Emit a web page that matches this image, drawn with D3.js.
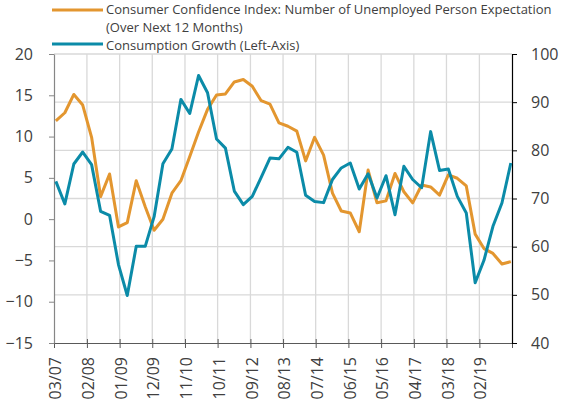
<!DOCTYPE html>
<html>
<head>
<meta charset="utf-8">
<script src="https://cdn.jsdelivr.net/npm/d3@7"></script>
<style>
  body { margin: 0; background: #fff; }
  text { font-family: "Open Sans", sans-serif; fill: #404040; }
</style>
</head>
<body>
<div id="chart"></div>
<script>
// quarterly series, 03/07 .. 12/19
var startDate = new Date(2007, 2, 1);

// Consumption Growth (left axis)
var consumption = [4.57, 1.84, 6.68, 8.13, 6.6, 0.95, 0.46, -5.5, -9.25, -3.29,
  -3.29, 0.3, 6.7, 8.5, 14.5, 12.8, 17.4, 15.3, 9.7, 8.6,
  3.4, 1.75, 2.76, 5.06, 7.4, 7.3, 8.7, 8.1, 2.9, 2.15,
  2.0, 4.8, 6.2, 6.8, 3.65, 5.5, 2.56, 5.26, 0.54, 6.4,
  4.8, 3.8, 10.6, 5.9, 6.07, 2.76, 0.75, -7.7, -4.98, -0.87,
  1.96, 6.8];

// Consumer Confidence Index: unemployed person expectation (right axis)
var confidence = [86.1, 87.8, 91.6, 89.4, 82.7, 70.4, 75.1, 64.1, 65.0, 73.7,
  68.3, 63.4, 65.7, 71.1, 73.7, 78.7, 83.8, 88.5, 91.5, 91.7,
  94.2, 94.7, 93.3, 90.3, 89.6, 85.7, 85.0, 84.0, 77.8, 82.7,
  79.0, 71.1, 67.4, 67.0, 63.1, 75.9, 69.1, 69.5, 75.2, 71.4,
  69.1, 72.8, 72.4, 70.7, 74.9, 74.2, 72.6, 62.6, 59.6, 58.6,
  56.4, 56.9];

var leftTicks = [-15, -10, -5, 0, 5, 10, 15, 20];
var rightTicks = [40, 50, 60, 70, 80, 90, 100];
var legendLabels = ["Consumer Confidence Index: Number of Unemployed Person Expectation",
  "(Over Next 12 Months)", "Consumption Growth (Left-Axis)"];

var orange = "#E3962F",
    blue = "#0B8BA8";

var width = 563,
    height = 414;

var margin = {left: 54, right: 51, top: 54, bottom: 71};

// dates of the points (quarter-end months)
var dates = consumption.map(function(d, i) {
  return new Date(2007, 2 + 3 * i, 20);
});

// x ticks every 11 months
var xTicks = d3.range(15).map(function(k) { return d3.timeMonth.offset(startDate, 11 * k); });

var x = d3.scaleTime()
  .domain([startDate, xTicks[xTicks.length - 1]])
  .range([margin.left, width - margin.right]);

var yL = d3.scaleLinear()
  .domain([-15, 20])
  .range([height - margin.bottom, margin.top]);

var yR = d3.scaleLinear()
  .domain([40, 100])
  .range([height - margin.bottom, margin.top]);

var svg = d3.select("#chart").append("svg")
  .attr("width", width)
  .attr("height", height);

// gridlines
svg.append("g")
  .selectAll("line")
  .data(xTicks.slice(1, -1))
  .enter().append("line")
  .attr("x1", function(d) { return x(d); })
  .attr("x2", function(d) { return x(d); })
  .attr("y1", yR(100))
  .attr("y2", yR(40))
  .attr("stroke", "#d9d9d9")
  .attr("stroke-width", 1.3);

svg.append("g")
  .selectAll("line")
  .data(rightTicks.slice(1))
  .enter().append("line")
  .attr("x1", x.range()[0])
  .attr("x2", x.range()[1])
  .attr("y1", function(d) { return yR(d); })
  .attr("y2", function(d) { return yR(d); })
  .attr("stroke", "#d9d9d9")
  .attr("stroke-width", 1.3);

// x axis
var gx = svg.append("g")
  .attr("transform", "translate(0," + yL(-15) + ")")
  .call(d3.axisBottom(x)
    .tickValues(xTicks)
    .tickSizeInner(5)
    .tickSizeOuter(0)
    .tickFormat(function(d, i) { return i < 14 ? d3.timeFormat("%m/%y")(d) : ""; }));
gx.select(".domain").attr("stroke", "#595959").attr("stroke-width", 1.2);
gx.selectAll(".tick line").attr("stroke", "#595959").attr("y1", -4);
gx.selectAll(".tick text")
  .attr("font-size", 16)
  .attr("font-family", "Open Sans")
  .attr("transform", "rotate(-90)")
  .attr("text-anchor", "end")
  .attr("x", -14)
  .attr("y", 1)
  .attr("dy", "0.35em")
  .attr("fill", "#404040");

// left axis
var gl = svg.append("g")
  .attr("transform", "translate(" + margin.left + ",0)")
  .call(d3.axisLeft(yL).tickValues(leftTicks).tickSizeInner(5).tickSizeOuter(0).tickPadding(16));
gl.select(".domain").attr("stroke", "#868686").attr("stroke-width", 1.2);
gl.selectAll(".tick line").attr("stroke", "#868686");
gl.selectAll(".tick text").attr("font-size", 16).attr("font-family", "Open Sans").attr("fill", "#404040");

// right axis
var gr = svg.append("g")
  .attr("transform", "translate(" + (width - margin.right) + ",0)")
  .call(d3.axisRight(yR).tickValues(rightTicks).tickSizeInner(5).tickSizeOuter(0).tickPadding(14));
gr.select(".domain").attr("stroke", "#000").attr("stroke-width", 1.2);
gr.selectAll(".tick line").attr("stroke", "#000");
gr.selectAll(".tick text").attr("font-size", 16).attr("font-family", "Open Sans").attr("fill", "#404040");

// lines
var lineL = d3.line()
  .x(function(d, i) { return x(dates[i]); })
  .y(function(d) { return yL(d); });

var lineR = d3.line()
  .x(function(d, i) { return x(dates[i]); })
  .y(function(d) { return yR(d); });

svg.append("path")
  .datum(confidence)
  .attr("fill", "none")
  .attr("stroke", orange)
  .attr("stroke-width", 3)
  .attr("stroke-linejoin", "round")
  .attr("d", lineR);

svg.append("path")
  .datum(consumption)
  .attr("fill", "none")
  .attr("stroke", blue)
  .attr("stroke-width", 3)
  .attr("stroke-linejoin", "round")
  .attr("d", lineL);

// legend
var legend = svg.append("g");

legend.append("line")
  .attr("x1", 52).attr("x2", 103)
  .attr("y1", 10).attr("y2", 10)
  .attr("stroke", orange).attr("stroke-width", 3);

legend.append("line")
  .attr("x1", 52).attr("x2", 103)
  .attr("y1", 44).attr("y2", 44)
  .attr("stroke", blue).attr("stroke-width", 3);

legend.selectAll("text")
  .data(legendLabels)
  .enter().append("text")
  .attr("x", 106)
  .attr("y", function(d, i) { return [9.5, 27.2, 45][i]; })
  .attr("dy", "0.35em")
  .attr("font-size", 13)
  .text(function(d) { return d; });
</script>
</body>
</html>
